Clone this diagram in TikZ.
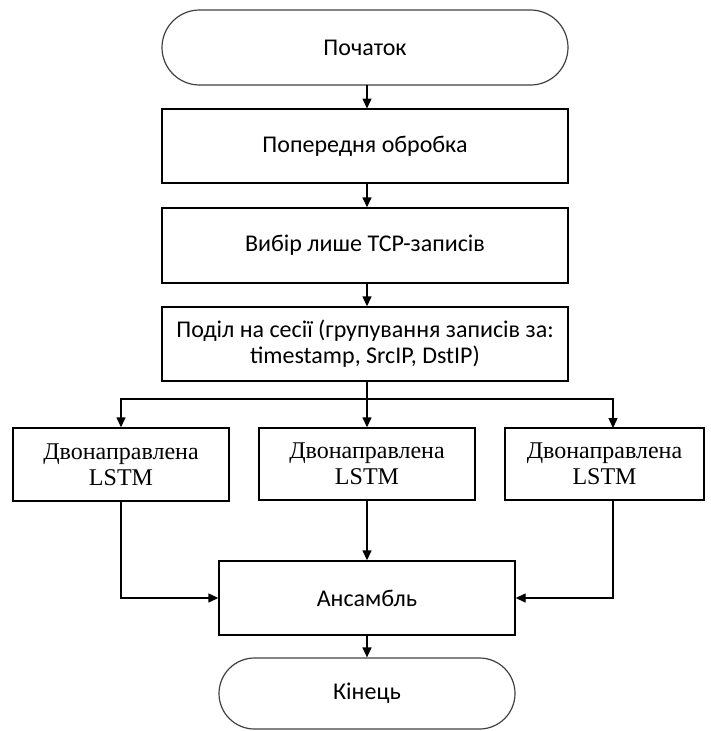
\documentclass[tikz,border=0pt]{standalone}
\usepackage{fontspec}
\setmainfont{Carlito}
\newfontfamily\lstmfont{Liberation Serif}
\usetikzlibrary{shapes.misc,arrows.meta}

\tikzset{
  base/.style={draw=black, line width=1.4pt, align=center, inner sep=0pt,
    font=\fontsize{24}{26}\selectfont},
  terminal/.style={base, rounded rectangle, draw=black!75, line width=1.2pt},
  procbox/.style={base, rectangle},
  lstmbox/.style={base, rectangle, font=\lstmfont\fontsize{24}{26}\selectfont},
  flow/.style={line width=1.4pt, -{Triangle[length=10pt,width=9pt]}},
  link/.style={line width=1.4pt}
}

\begin{document}
\begin{tikzpicture}[x=1pt, y=-1pt]
  \useasboundingbox (0,0) rectangle (710,731);

  % main column
  \node[terminal, minimum width=406pt, minimum height=75pt] (start) at (365,47.5) {Початок};
  \node[procbox, minimum width=406pt, minimum height=74pt] (prep) at (365,146) {Попередня обробка};
  \node[procbox, minimum width=406pt, minimum height=75pt] (tcp) at (365,245.5) {Вибір лише TCP-записів};
  \node[procbox, minimum width=406pt, minimum height=74pt] (sess) at (365,344)
    {Поділ на сесії (групування записів за:\\timestamp, SrcIP, DstIP)};

  % three parallel networks
  \node[lstmbox, minimum width=216pt, minimum height=73pt] (lstmL) at (121,464.5) {Двонаправлена\\LSTM};
  \node[lstmbox, minimum width=216pt, minimum height=72pt] (lstmM) at (367,464) {Двонаправлена\\LSTM};
  \node[lstmbox, minimum width=199pt, minimum height=72pt] (lstmR) at (604.5,464) {Двонаправлена\\LSTM};

  % ensemble and end
  \node[procbox, minimum width=296pt, minimum height=74pt] (ens) at (367,598) {Ансамбль};
  \node[terminal, minimum width=296pt, minimum height=71pt] (stop) at (367,693.5) {Кінець};

  % helper points for the split and the side feeds
  \coordinate (split) at (367,399);
  \coordinate (rTop) at (613,428);
  \coordinate (rBot) at (613,500);

  % connectors
  \draw[flow] (367,85) -- (367,108.5);
  \draw[flow] ([xshift=2pt]prep.south) -- ([xshift=2pt]tcp.north);
  \draw[flow] ([xshift=2pt]tcp.south) -- ([xshift=2pt]sess.north);
  \draw[link] ([xshift=2pt]sess.south) -- (split);
  \draw[flow] (split) -| (lstmL.north);
  \draw[flow] (split) -- (lstmM.north);
  \draw[flow] (split) -| (rTop);
  \draw[flow] (lstmM.south) -- (ens.north);
  \draw[flow] (lstmL.south) |- (ens.west);
  \draw[flow] (rBot) |- (ens.east);
  \draw[flow] (ens.south) -- (stop.north);
\end{tikzpicture}
\end{document}
